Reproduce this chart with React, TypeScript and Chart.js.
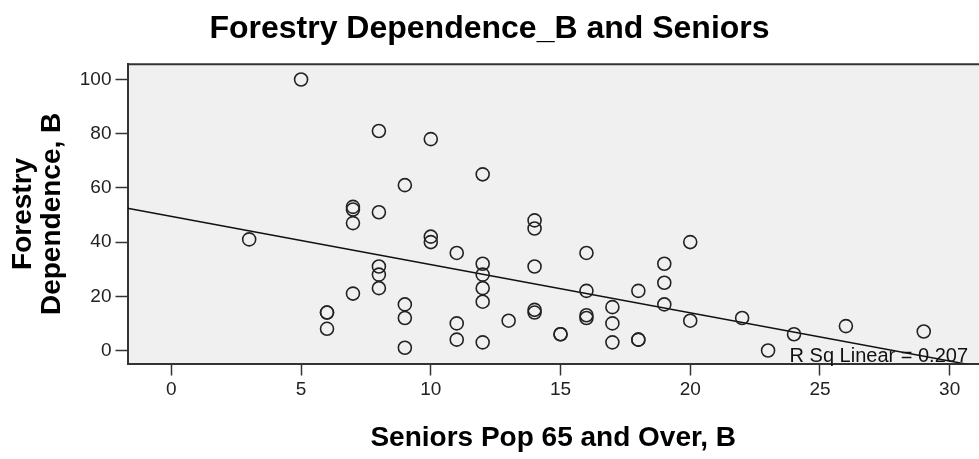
import React, { useEffect, useRef } from "react";
import { Chart, registerables } from "chart.js";

Chart.register(...registerables);

const chartTitle = "Forestry Dependence_B and Seniors";
const xTitle = "Seniors Pop 65 and Over, B";
const yTitle = ["Forestry", "Dependence, B"];
const fitLabel = "R Sq Linear = 0.207";

// Seniors Pop 65 and Over, B (x) and Forestry Dependence, B (y)
const seniors = [
  3, 5, 6, 6, 6, 7, 7, 7, 7, 8, 8, 8, 8, 8, 9, 9, 9, 9, 10, 10, 10, 11, 11, 11,
  12, 12, 12, 12, 12, 12, 13, 14, 14, 14, 14, 14, 15, 15, 16, 16, 16, 16, 17,
  17, 17, 18, 18, 18, 19, 19, 19, 20, 20, 22, 23, 24, 26, 29,
];
const forestry = [
  41, 100, 14, 14, 8, 53, 52, 47, 21, 81, 51, 31, 28, 23, 61, 17, 12, 1, 78,
  42, 40, 36, 10, 4, 65, 32, 28, 23, 18, 3, 11, 48, 45, 31, 15, 14, 6, 6, 36,
  22, 13, 12, 16, 10, 3, 22, 4, 4, 32, 25, 17, 40, 11, 12, 0, 6, 9, 7,
];

// Linear fit line end points
const fitX = [-1.69, 31.13];
const fitY = [52.5, -5.9];

const xTicks = [0, 5, 10, 15, 20, 25, 30];
const yTicks = [0, 20, 40, 60, 80, 100];
const xRange = [-1.69, 31.13];
const yRange = [-4.8, 105.6];

const FAMILY = "'Liberation Sans', Arial, Helvetica, sans-serif";

const framePlugin = {
  id: "frame",
  beforeDraw(chart: any) {
    const { ctx, chartArea: a } = chart;
    ctx.save();
    ctx.fillStyle = "#f0f0f0";
    ctx.fillRect(a.left, a.top, a.right - a.left, a.bottom - a.top);
    ctx.restore();
  },
  afterDatasetsDraw(chart: any) {
    const { ctx, chartArea: a } = chart;
    ctx.save();
    ctx.strokeStyle = "#333";
    ctx.lineWidth = 2;
    ctx.beginPath();
    ctx.moveTo(a.left, a.top);
    ctx.lineTo(a.right, a.top);
    ctx.stroke();
    ctx.fillStyle = "#111";
    ctx.font = `20px ${FAMILY}`;
    ctx.textAlign = "right";
    ctx.textBaseline = "alphabetic";
    ctx.fillText(fitLabel, a.right - 11, a.bottom - 2);
    ctx.restore();
  },
};

export default function App() {
  const ref = useRef<HTMLCanvasElement | null>(null);

  useEffect(() => {
    if (!ref.current) return;
    const points = seniors.map((x, i) => ({ x, y: forestry[i] }));
    const fit = fitX.map((x, i) => ({ x, y: fitY[i] }));
    const chart = new Chart(ref.current, {
      type: "scatter",
      data: {
        datasets: [
          {
            label: "Observed",
            data: points,
            pointRadius: 6.5,
            pointBorderWidth: 1.6,
            pointBorderColor: "#222",
            pointBackgroundColor: "rgba(0,0,0,0)",
            showLine: false,
          },
          {
            label: "Linear",
            data: fit,
            showLine: true,
            pointRadius: 0,
            borderColor: "#111",
            borderWidth: 1.5,
          },
        ],
      },
      options: {
        animation: false,
        responsive: false,
        devicePixelRatio: 1,
        layout: { padding: 0, autoPadding: false },
        plugins: {
          legend: { display: false },
          tooltip: { enabled: false },
          title: {
            display: true,
            text: chartTitle,
            color: "#000",
            font: { size: 32, weight: "bold", family: FAMILY },
            padding: { top: 10, bottom: 15.9 },
          },
        },
        scales: {
          x: {
            type: "linear",
            min: xRange[0],
            max: xRange[1],
            afterBuildTicks: (s: any) => {
              s.ticks = xTicks.map((v) => ({ value: v }));
            },
            afterFit: (s: any) => {
              s.height = 95.5;
              s.paddingLeft = 0;
              s.paddingRight = 0;
            },
            grid: {
              drawOnChartArea: false,
              tickLength: 12,
              tickColor: "#333",
              tickWidth: 1.5,
            },
            border: { color: "#333", width: 2 },
            ticks: {
              font: { size: 19, family: FAMILY },
              color: "#222",
              padding: 3,
              maxRotation: 0,
              autoSkip: false,
              includeBounds: false,
            },
            title: {
              display: true,
              text: xTitle,
              color: "#000",
              font: { size: 28, weight: "bold", family: FAMILY },
              padding: { top: 0, bottom: 4 },
            },
          },
          y: {
            type: "linear",
            min: yRange[0],
            max: yRange[1],
            afterBuildTicks: (s: any) => {
              s.ticks = yTicks.map((v) => ({ value: v }));
            },
            afterFit: (s: any) => {
              s.width = 127.5;
              s.paddingTop = 0;
              s.paddingBottom = 0;
            },
            grid: {
              drawOnChartArea: false,
              tickLength: 12,
              tickColor: "#333",
              tickWidth: 1.5,
            },
            border: { color: "#333", width: 2 },
            ticks: {
              font: { size: 19, family: FAMILY },
              color: "#222",
              padding: 4,
              autoSkip: false,
              includeBounds: false,
            },
            title: {
              display: true,
              text: yTitle,
              color: "#000",
              font: { size: 28, weight: "bold", family: FAMILY, lineHeight: 1.02 },
              padding: { top: 9.5, bottom: 0 },
            },
          },
        },
      },
      plugins: [framePlugin],
    } as any);
    return () => chart.destroy();
  }, []);

  return (
    <div style={{ position: "fixed", left: 0, top: 0, width: 979, height: 459, background: "#fff" }}>
      <canvas ref={ref} width={979} height={459} style={{ width: 979, height: 459, display: "block" }} />
    </div>
  );
}
